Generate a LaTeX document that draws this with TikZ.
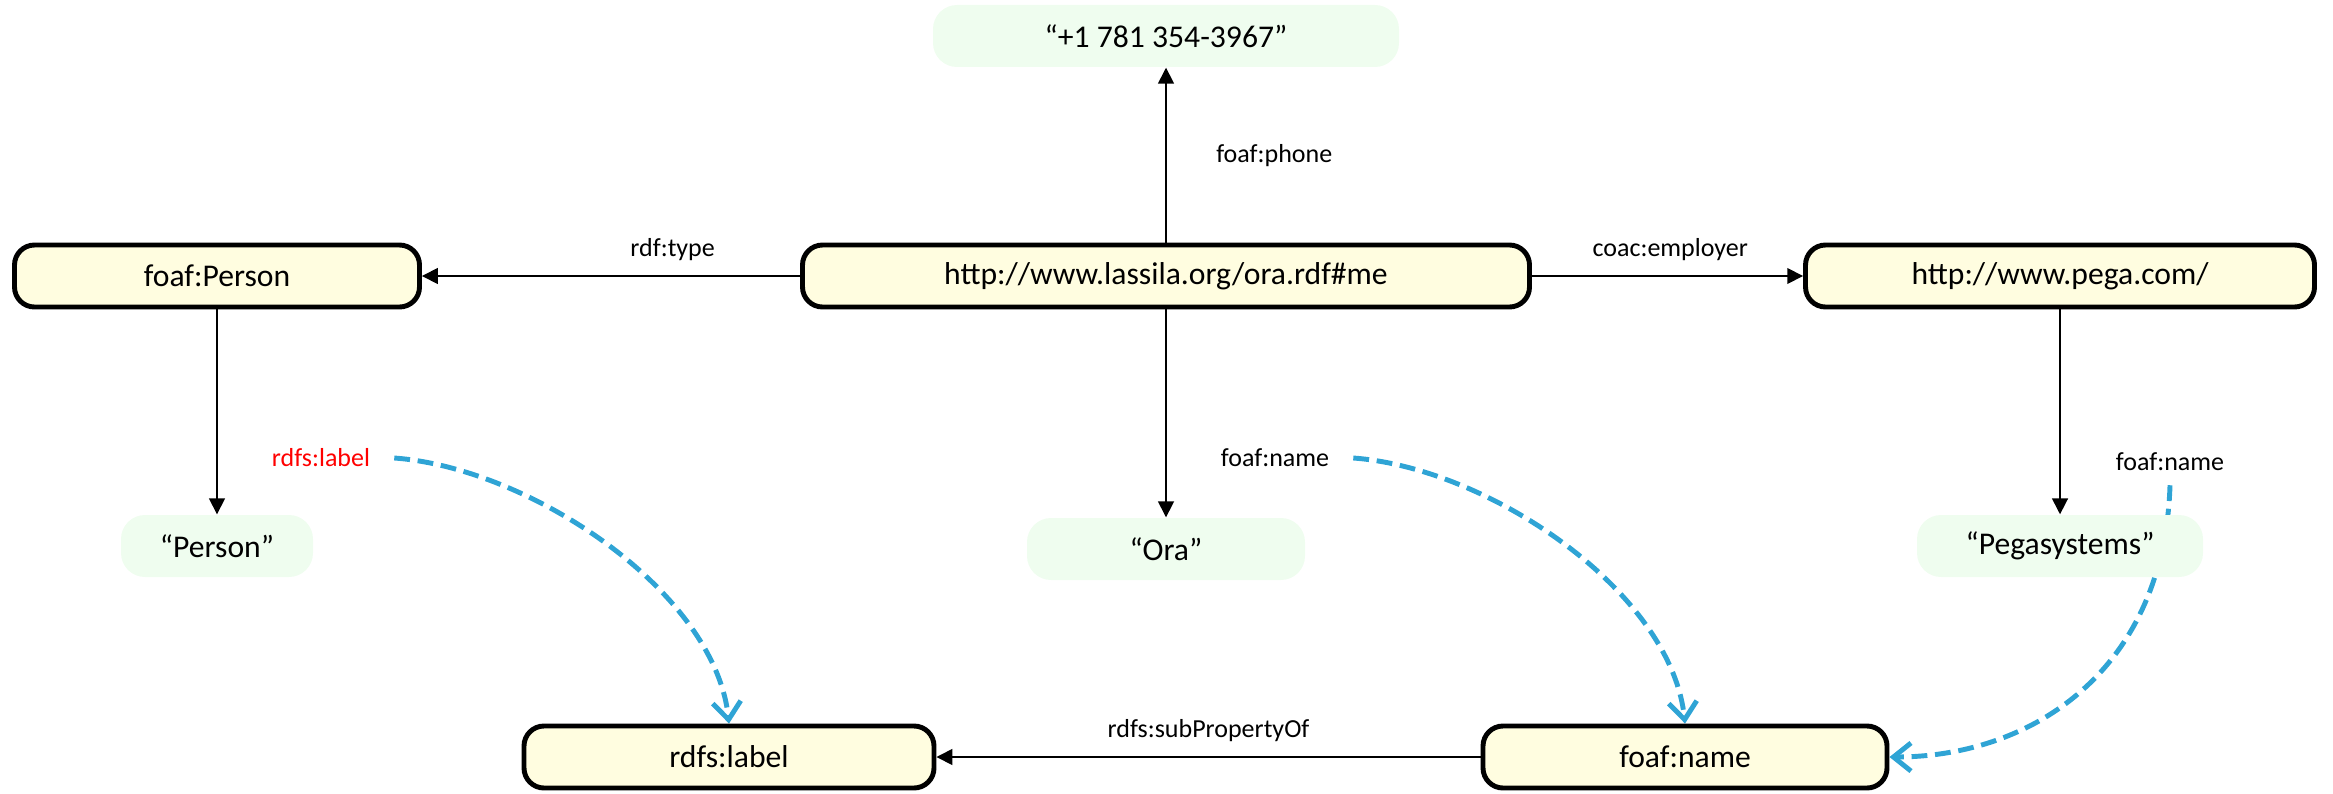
\documentclass[tikz,border=0pt]{standalone}
\usepackage{fontspec}
\setmainfont{Carlito}
\usetikzlibrary{arrows.meta}
\definecolor{resfill}{HTML}{FFFDE0}
\definecolor{litfill}{HTML}{EFFDEF}
\definecolor{subblue}{HTML}{2FA4D5}
\pgfdeclarelayer{bg}
\pgfsetlayers{bg,main}

\begin{document}
\begin{tikzpicture}[>={Triangle[length=4.5pt,width=4.5pt]},
    res/.style={draw, line width=1.4pt, fill=resfill, rounded corners=0.2cm,
        minimum height=0.62cm, inner sep=0pt, font=\fontsize{9}{10}\selectfont},
    lit/.style={fill=litfill, rounded corners=0.24cm, minimum height=0.62cm,
        inner sep=0pt, font=\fontsize{9}{10}\selectfont},
    prop/.style={font=\fontsize{7.4}{8}\selectfont, inner sep=1pt},
    rel/.style={->, line width=0.45pt},
    sub/.style={-{Straight Barb[length=5pt,width=8pt]}, subblue, line width=1.4pt,
        dash pattern=on 4.5pt off 2.2pt}]
    \useasboundingbox (0,0) rectangle (23.33,7.93);

    % 1. resources and literals
    \node[res, minimum width=7.27cm] (me) at (11.66,5.17) {http://www.lassila.org/ora.rdf\#me};
    \node[res, minimum width=4.05cm] (person) at (2.17,5.17) {foaf:Person};
    \node[res, minimum width=5.09cm] (pega) at (20.6,5.17) {http://www.pega.com/};
    \node[lit, minimum width=4.66cm] (phone) at (11.66,7.57) {“+1 781 354-3967”};
    \node[lit, minimum width=1.92cm] (personlit) at (2.17,2.47) {“Person”};
    \node[lit, minimum width=2.78cm] (ora) at (11.66,2.44) {“Ora”};
    \node[lit, minimum width=2.86cm] (pegalit) at (20.6,2.47) {“Pegasystems”};
    \node[res, minimum width=4.1cm] (rdfslabel) at (7.29,0.36) {rdfs:label};
    \node[res, minimum width=4.04cm] (foafname) at (16.85,0.36) {foaf:name};

    % 2. plain properties
    \draw[rel] (me) -- (person) node[prop, pos=0.337, above=3pt] {rdf:type};
    \draw[rel] (me) -- (pega) node[prop, pos=0.51, above=3pt] {coac:employer};
    \draw[rel] (me) -- (phone) node[prop, midway, right=0.46cm] {foaf:phone};
    \draw[rel] (me) -- (ora);
    \draw[rel] (person) -- (personlit);
    \draw[rel] (pega) -- (pegalit);
    \draw[rel] (foafname) -- (rdfslabel) node[prop, midway, above=3pt] {rdfs:subPropertyOf};

    % 3. property names used on the literal arcs
    \node[prop, red] (lblrdfs) at (3.21,3.35) {rdfs:label};
    \node[prop] (lblname) at (12.75,3.35) {foaf:name};
    \node[prop] (lblpname) at (21.70,3.31) {foaf:name};

    % 4. dashed arcs to the property nodes (behind the literals)
    \begin{pgfonlayer}{bg}
        \draw[sub] ([xshift=0.2cm]lblrdfs.east) .. controls +(1.36,-0.1) and +(-0.14,1.32) .. (rdfslabel.north);
        \draw[sub] ([xshift=0.2cm]lblname.east) .. controls +(1.36,-0.1) and +(-0.14,1.32) .. (foafname.north);
        \draw[sub] ([yshift=-0.1cm]lblpname.south) .. controls +(-0.06,-1.85) and +(1.43,0) .. (foafname.east);
    \end{pgfonlayer}

\end{tikzpicture}
\end{document}
